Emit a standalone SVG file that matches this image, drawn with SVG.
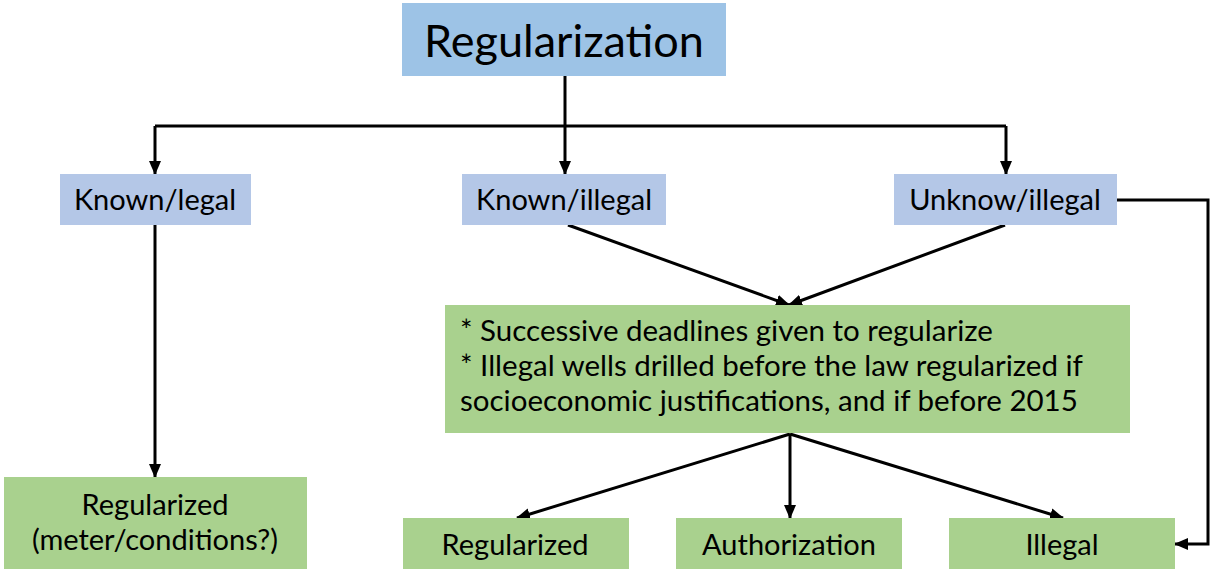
<svg xmlns="http://www.w3.org/2000/svg" width="1210" height="569" viewBox="0 0 1210 569">
  <style>
    .t { font-family: Lato, "Open Sans", "Liberation Sans", sans-serif; fill: #000; }
    .c { text-anchor: middle; }
    .n { font-size: 29px; }
    .m { font-size: 29.5px; }
    .blue1 { fill: #9DC3E6; }
    .blue2 { fill: #B4C7E7; }
    .green { fill: #A9D18E; }
    .ln { stroke: #000; stroke-width: 3; fill: none; }
  </style>
  <defs>
    <marker id="ah" markerUnits="userSpaceOnUse" markerWidth="14" markerHeight="12" refX="13" refY="6" orient="auto">
      <path d="M0,0 L14,6 L0,12 z" fill="#000"/>
    </marker>
  </defs>
  <rect width="1210" height="569" fill="#fff"/>

  <g id="connectors">
    <polyline class="ln" points="565,76 565,126"/>
    <polyline class="ln" points="155,126 1006,126"/>
    <line class="ln" x1="155" y1="126" x2="155" y2="174" marker-end="url(#ah)"/>
    <line class="ln" x1="565" y1="126" x2="565" y2="174" marker-end="url(#ah)"/>
    <line class="ln" x1="1006" y1="126" x2="1006" y2="174" marker-end="url(#ah)"/>
    <line class="ln" x1="155" y1="225" x2="155" y2="477" marker-end="url(#ah)"/>
    <line class="ln" x1="568" y1="225" x2="789" y2="305" marker-end="url(#ah)"/>
    <line class="ln" x1="1005" y1="225" x2="789" y2="305" marker-end="url(#ah)"/>
    <line class="ln" x1="790" y1="434" x2="517" y2="518" marker-end="url(#ah)"/>
    <line class="ln" x1="790" y1="434" x2="790" y2="518" marker-end="url(#ah)"/>
    <line class="ln" x1="790" y1="434" x2="1063" y2="518" marker-end="url(#ah)"/>
    <polyline class="ln" points="1117,200 1208,200 1208,544 1175,544" marker-end="url(#ah)"/>
  </g>

  <g id="regularization">
    <rect class="blue1" x="402" y="3" width="324" height="73"/>
    <text class="t c" x="564" y="57" font-size="45">Regularization</text>
  </g>
  <g id="known-legal">
    <rect class="blue2" x="60" y="174" width="191" height="51"/>
    <text class="t c n" x="155" y="210">Known/legal</text>
  </g>
  <g id="known-illegal">
    <rect class="blue2" x="462" y="174" width="204" height="51"/>
    <text class="t c n" x="564" y="210">Known/illegal</text>
  </g>
  <g id="unknow-illegal">
    <rect class="blue2" x="894" y="174" width="223" height="51"/>
    <text class="t c n" x="1005" y="210">Unknow/illegal</text>
  </g>
  <g id="conditions">
    <rect class="green" x="445" y="305" width="685" height="128"/>
    <text class="t m" x="460" y="341">* Successive deadlines given to regularize</text>
    <text class="t m" x="460" y="376">* Illegal wells drilled before the law regularized if</text>
    <text class="t m" x="460" y="411">socioeconomic justifications, and if before 2015</text>
  </g>
  <g id="regularized-meter">
    <rect class="green" x="4" y="477" width="303" height="92"/>
    <text class="t c n" x="155" y="515">Regularized</text>
    <text class="t c n" x="155" y="550">(meter/conditions?)</text>
  </g>
  <g id="regularized">
    <rect class="green" x="403" y="518" width="226" height="51"/>
    <text class="t c n" x="515" y="555">Regularized</text>
  </g>
  <g id="authorization">
    <rect class="green" x="676" y="518" width="226" height="51"/>
    <text class="t c n" x="789" y="555">Authorization</text>
  </g>
  <g id="illegal">
    <rect class="green" x="949" y="518" width="226" height="51"/>
    <text class="t c n" x="1062" y="555">Illegal</text>
  </g>
</svg>
